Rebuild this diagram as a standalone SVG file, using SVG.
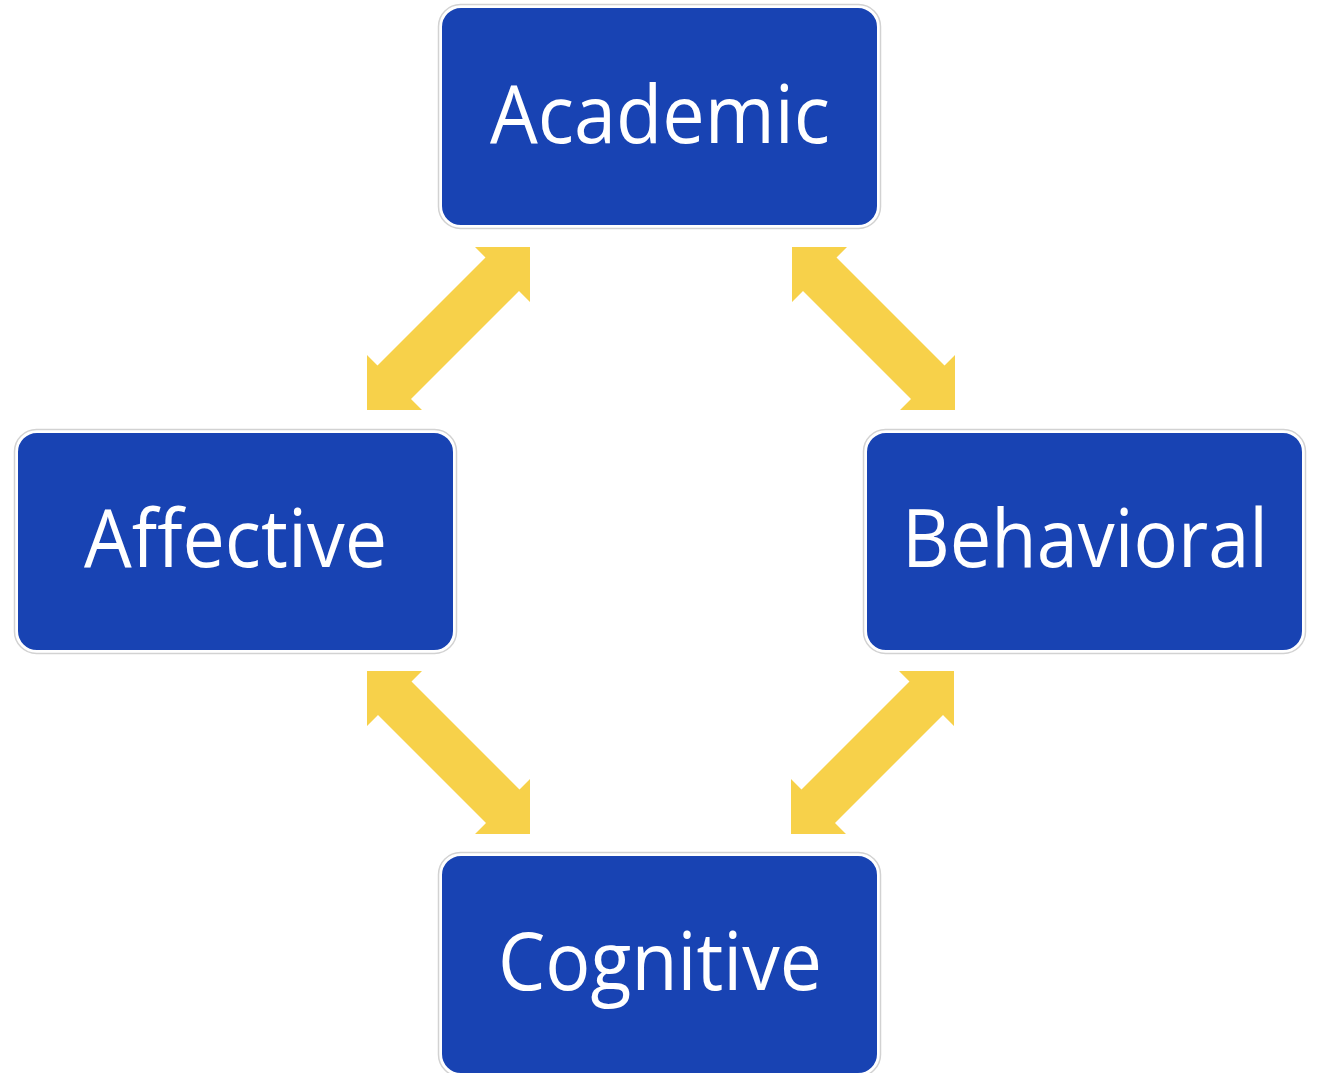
<svg xmlns="http://www.w3.org/2000/svg" xmlns:xlink="http://www.w3.org/1999/xlink" width="1317" height="1073" viewBox="0 0 1317 1073">
<style>
.box{fill:#1843B3;stroke:#ffffff;stroke-width:2}
.halo{fill:none;stroke:#d2d2d2;stroke-width:1.5}
.lbl{fill:#ffffff;font-family:"Open Sans","Noto Sans","Liberation Sans",sans-serif;font-size:80px;text-anchor:middle}
.arr{fill:#F7D14A}
</style>
<defs>
<polygon id="dbl" points="163,0 163,55 152,44 44,152 55,163 0,163 0,108 10.5,118.5 118.5,10.5 108,0"/>
</defs>
<rect width="1317" height="1073" fill="#ffffff"/>
<g id="connectors" class="arr">
<use xlink:href="#dbl" href="#dbl" transform="translate(367,247)"/>
<use xlink:href="#dbl" href="#dbl" transform="translate(955,247) scale(-1,1)"/>
<use xlink:href="#dbl" href="#dbl" transform="translate(530,671) scale(-1,1)"/>
<use xlink:href="#dbl" href="#dbl" transform="translate(791,671)"/>
</g>
<g id="academic">
<rect class="halo" x="438.5" y="4.5" width="442" height="224" rx="22"/>
<rect class="box" x="441" y="7" width="437" height="219" rx="20"/>
<text class="lbl" x="660" y="143" textLength="340" lengthAdjust="spacingAndGlyphs">Academic</text>
</g>
<g id="affective">
<rect class="halo" x="14.5" y="429.5" width="442" height="224" rx="22"/>
<rect class="box" x="17" y="432" width="437" height="219" rx="20"/>
<text class="lbl" x="235.5" y="567" textLength="303" lengthAdjust="spacingAndGlyphs">Affective</text>
</g>
<g id="behavioral">
<rect class="halo" x="863.5" y="429.5" width="442" height="224" rx="22"/>
<rect class="box" x="866" y="432" width="437" height="219" rx="20"/>
<text class="lbl" x="1085" y="567" textLength="366" lengthAdjust="spacingAndGlyphs">Behavioral</text>
</g>
<g id="cognitive">
<rect class="halo" x="438.5" y="852.5" width="442" height="224" rx="22"/>
<rect class="box" x="441" y="855" width="437" height="219" rx="20"/>
<text class="lbl" x="660" y="990" textLength="324" lengthAdjust="spacingAndGlyphs">Cognitive</text>
</g>
</svg>
